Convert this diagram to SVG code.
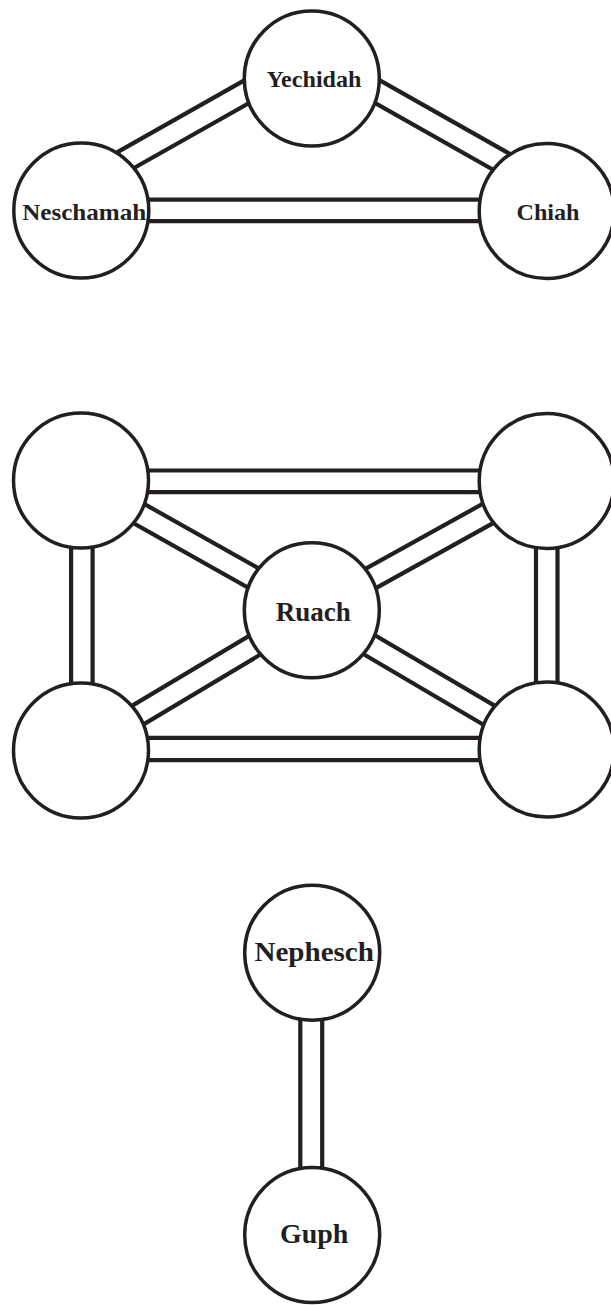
<svg xmlns="http://www.w3.org/2000/svg" width="611" height="1305" viewBox="0 0 611 1305">
<style>
.rail{fill:none;stroke:#231f20;stroke-width:4.2;stroke-linecap:butt}
.node circle{fill:#fff;stroke:#231f20;stroke-width:3.5}
.lbl{font-family:"Liberation Serif","DejaVu Serif",serif;font-weight:bold;fill:#231f20;text-anchor:middle}
.s1{font-size:24px}
.s2{font-size:27px}
</style>
<rect width="611" height="1305" fill="#fff"/>
<g id="connectors">
  <path class="rail" d="M259.6,71.7 L104.6,159.3 M270.4,90.9 L115.4,178.5"/>
  <path class="rail" d="M364.4,71.7 L519.4,159.3 M353.6,90.9 L508.6,178.5"/>
  <path class="rail" d="M120,199.7 L510,199.7 M120,221.2 L510,221.2"/>
  <path class="rail" d="M120,470.5 L510,470.5 M120,492.2 L510,492.2"/>
  <path class="rail" d="M120,737.8 L510,737.8 M120,760.2 L510,760.2"/>
  <path class="rail" d="M71.1,520 L71.1,710 M92.6,520 L92.6,710"/>
  <path class="rail" d="M536,520 L536,710 M557.5,520 L557.5,710"/>
  <path class="rail" d="M86.4,471.4 L317.4,601.4 M75.6,490.6 L306.6,620.6"/>
  <path class="rail" d="M541.2,471.4 L306.7,601.4 M551.8,490.6 L317.3,620.6"/>
  <path class="rail" d="M75.4,739.6 L306.4,601.6 M86.6,758.4 L317.6,620.4"/>
  <path class="rail" d="M552.1,739.5 L317.6,601.5 M540.9,758.5 L306.4,620.5"/>
  <path class="rail" d="M300.3,990 L300.3,1200 M322.2,990 L322.2,1200"/>
</g>
<g id="yechidah" class="node"><circle cx="311.8" cy="78.5" r="67.5"/><text class="lbl s1" x="313.9" y="87.3" textLength="95" lengthAdjust="spacingAndGlyphs">Yechidah</text></g>
<g id="neschamah" class="node"><circle cx="81.3" cy="210.5" r="67.5"/><text class="lbl s1" x="84.2" y="220" textLength="124" lengthAdjust="spacingAndGlyphs">Neschamah</text></g>
<g id="chiah" class="node"><circle cx="546.7" cy="211" r="67.5"/><text class="lbl s1" x="548" y="220" textLength="63" lengthAdjust="spacingAndGlyphs">Chiah</text></g>
<g id="ruach-tl" class="node"><circle cx="81" cy="480.5" r="67.5"/></g>
<g id="ruach-tr" class="node"><circle cx="546.7" cy="481" r="67.5"/></g>
<g id="ruach-bl" class="node"><circle cx="81" cy="750.5" r="67.5"/></g>
<g id="ruach-br" class="node"><circle cx="546.7" cy="749.5" r="67.5"/></g>
<g id="ruach" class="node"><circle cx="311.8" cy="610.2" r="67.5"/><text class="lbl s2" x="313.3" y="620.7" textLength="75" lengthAdjust="spacingAndGlyphs">Ruach</text></g>
<g id="nephesch" class="node"><circle cx="312.2" cy="952.7" r="67.5"/><text class="lbl s2" x="314.2" y="961" textLength="119.5" lengthAdjust="spacingAndGlyphs">Nephesch</text></g>
<g id="guph" class="node"><circle cx="312.2" cy="1235" r="67.5"/><text class="lbl s2" x="314.2" y="1243.3" textLength="68.3" lengthAdjust="spacingAndGlyphs">Guph</text></g>
</svg>
